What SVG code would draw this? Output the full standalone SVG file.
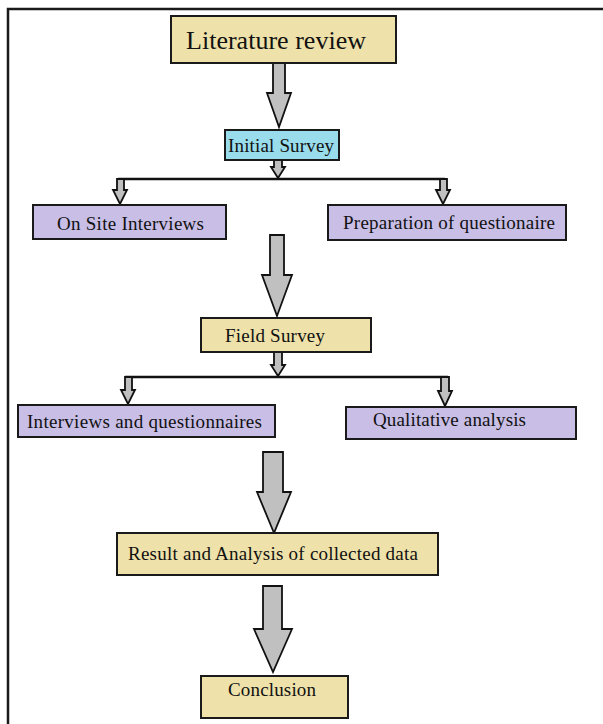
<svg xmlns="http://www.w3.org/2000/svg" width="603" height="724" viewBox="0 0 603 724">
<style>
.box{stroke:#1a1a1a;stroke-width:2}
.k{fill:#EEE1A9}
.p{fill:#C8BEE6}
.b{fill:#99DCEC}
.t{font-family:"Liberation Serif","Times New Roman",serif;font-size:19px;fill:#111}
.arr{fill:#C0C0C0;stroke:#111;stroke-width:1.8;stroke-linejoin:miter}
.ln{stroke:#111;stroke-width:2.5;fill:none}
</style>
<rect x="0" y="0" width="603" height="724" fill="#fff"/>
<path d="M8,724 V9 H603" fill="none" stroke="#1a1a1a" stroke-width="2.5"/>
<g id="connectors">
<polygon class="arr" points="273,63 285,63 285,93 291,93 279,127 267,93 273,93"/>
<polygon class="arr" points="274,160 282,160 282,167 285,167 278,178 271,167 274,167"/>
<line class="ln" x1="118" y1="179" x2="445" y2="179"/>
<polygon class="arr" points="117,179 124,179 124,190 127,190 120,204 113,190 117,190"/>
<polygon class="arr" points="440,179 447,179 447,190 450,190 443,204 436,190 440,190"/>
<polygon class="arr" points="270,235 284,235 284,275 292,275 277,316 262,275 270,275"/>
<polygon class="arr" points="274,352 282,352 282,365 285,365 278,376 271,365 274,365"/>
<line class="ln" x1="125" y1="377" x2="448" y2="377"/>
<polygon class="arr" points="125,377 132,377 132,390 135,390 128,404 121,390 125,390"/>
<polygon class="arr" points="441,377 449,377 449,391 452,391 445,406 438,391 441,391"/>
<polygon class="arr" points="263,452 283,452 283,492 291,492 274,533 257,492 263,492"/>
<polygon class="arr" points="263,586 282,586 282,629 292,629 273,672 254,629 263,629"/>
</g>
<g id="n1"><rect class="box k" x="171" y="16" width="225" height="47"/><text class="t" x="186" y="49" style="font-size:26px" textLength="180">Literature review</text></g>
<g id="n2"><rect class="box b" x="225" y="130" width="114" height="30"/><text class="t" x="228" y="152" textLength="106">Initial Survey</text></g>
<g id="n3"><rect class="box p" x="33" y="205" width="193" height="34"/><text class="t" x="57" y="230" textLength="147">On Site Interviews</text></g>
<g id="n4"><rect class="box p" x="328" y="205" width="238" height="35"/><text class="t" x="343" y="229" textLength="212">Preparation of questionaire</text></g>
<g id="n5"><rect class="box k" x="201" y="318" width="170" height="34"/><text class="t" x="225" y="342" textLength="100">Field Survey</text></g>
<g id="n6"><rect class="box p" x="18" y="405" width="257" height="32"/><text class="t" x="27" y="428" textLength="235">Interviews and questionnaires</text></g>
<g id="n7"><rect class="box p" x="346" y="407" width="230" height="32"/><text class="t" x="373" y="426" textLength="153">Qualitative analysis</text></g>
<g id="n8"><rect class="box k" x="117" y="533" width="321" height="42"/><text class="t" x="128" y="560" textLength="290">Result and Analysis of collected data</text></g>
<g id="n9"><rect class="box k" x="201" y="676" width="147" height="42"/><text class="t" x="228" y="696" textLength="88">Conclusion</text></g>
</svg>
